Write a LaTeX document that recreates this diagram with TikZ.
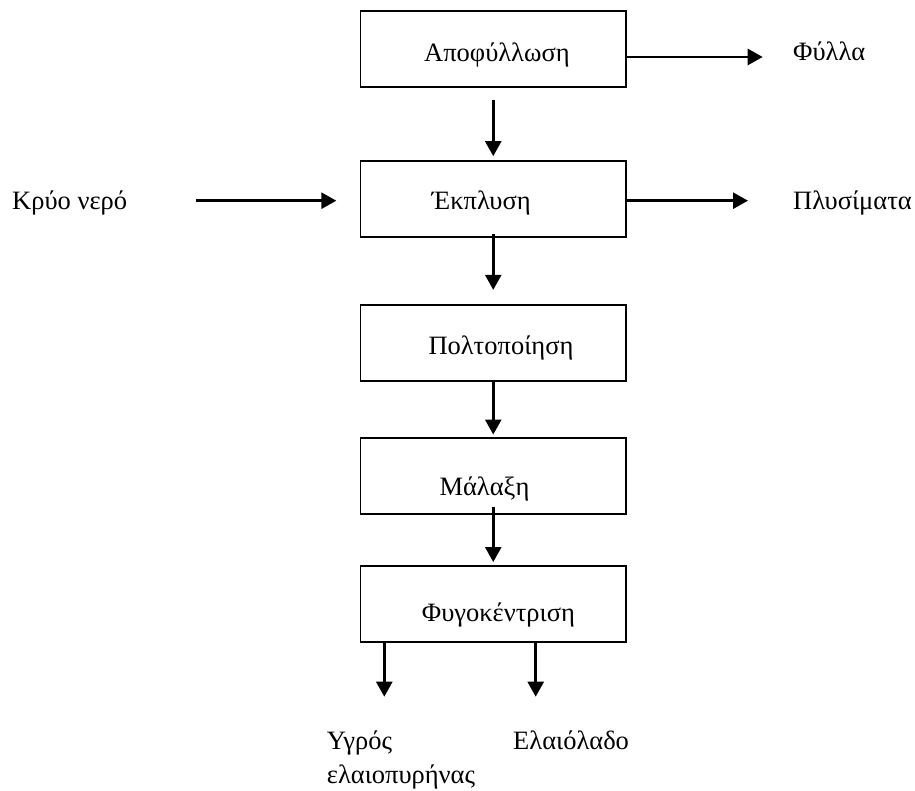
\documentclass[tikz,border=0pt]{standalone}
\usepackage{fontspec}
\setmainfont{Liberation Serif}
\usetikzlibrary{arrows.meta}
\begin{document}
\begin{tikzpicture}[x=1pt,y=-1pt,
  stagebox/.style={draw,line width=1.7pt,minimum width=265.5pt,minimum height=76pt,inner sep=0pt},
  lbl/.style={anchor=base west,inner sep=0pt,font=\fontsize{26.5}{31}\selectfont},
  flow/.style={line width=2.6pt,-{Triangle[width=16pt,length=15pt]}}]
\useasboundingbox (0,0) rectangle (915,791);

% process stages
\node[stagebox] (b1) at (493.25,49) {};
\node[stagebox] (b2) at (493.25,198.7) {};
\node[stagebox] (b3) at (493.25,343) {};
\node[stagebox] (b4) at (493.25,475.7) {};
\node[stagebox] (b5) at (493.25,604.3) {};

% stage names
\node[lbl] (t1) at (424,62) {Αποφύλλωση};
\node[lbl] (t2) at (431.7,209.3) {Έκπλυση};
\node[lbl] (t3) at (428.3,355) {Πολτοποίηση};
\node[lbl] (t4) at (439.3,495) {Μάλαξη};
\node[lbl] (t5) at (421.7,621.7) {Φυγοκέντριση};

% inputs and outputs
\node[lbl] (leaves) at (793,60.7) {Φύλλα};
\node[lbl] (water) at (12,209.3) {Κρύο νερό};
\node[lbl] (wash) at (793,209.3) {Πλυσίματα};
\node[lbl] (pom1) at (326.7,749.3) {Υγρός};
\node[lbl] (pom2) at (326.7,783) {ελαιοπυρήνας};
\node[lbl] (oil) at (513,749.3) {Ελαιόλαδο};

% free arrow ends
\coordinate (f1) at (762.7,57);
\coordinate (k1) at (195.7,200.7);
\coordinate (p1) at (748,200.7);
\coordinate (o1) at (384.3,696.7);
\coordinate (o2) at (535.7,696.7);

% main line
\draw[flow] ([yshift=-12pt]b1.south) -- ([yshift=3.7pt]b2.north);
\draw[flow] ([yshift=3.7pt]b2.south) -- ([yshift=14.3pt]b3.north);
\draw[flow] (b3.south) -- ([yshift=2.3pt]b4.north);
\draw[flow] ([yshift=8pt]b4.south) -- ([yshift=3.4pt]b5.north);

% side streams
\draw[flow] (f1 -| b1.east) -- (f1);
\draw[flow,shorten >=23.3pt] (k1) -- (k1 -| b2.west);
\draw[flow] (p1 -| b2.east) -- (p1);
\draw[flow] (o1 |- b5.south) -- (o1);
\draw[flow] (o2 |- b5.south) -- (o2);
\end{tikzpicture}
\end{document}
